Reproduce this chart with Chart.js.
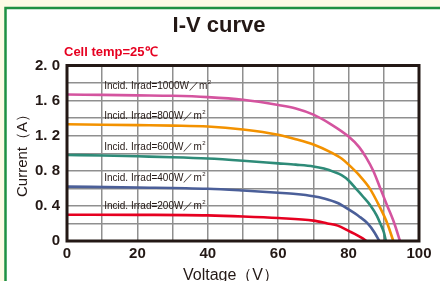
<!DOCTYPE html>
<html>
<head>
<meta charset="utf-8">
<script src="https://cdn.jsdelivr.net/npm/chart.js@4"></script>
<style>
  html, body { margin: 0; padding: 0; background: #fdfbe4; overflow: hidden; }
  canvas { display: block; }
</style>
</head>
<body>
<canvas id="ivChart" width="440" height="281"></canvas>
<script>
// values (voltage in V, current in A)
const volt1000 = [0, 10, 20, 30, 40, 50, 60, 65, 70, 75, 80, 83, 85, 87, 89, 91, 93, 94.6];
const curr1000 = [1.67, 1.665, 1.66, 1.655, 1.64, 1.61, 1.55, 1.51, 1.44, 1.33, 1.19, 1.07, 0.95, 0.8, 0.6, 0.4, 0.2, 0];
const volt800 = [0, 10, 20, 30, 40, 50, 60, 65, 70, 75, 78, 80, 83, 86, 88.7, 91, 92.7];
const curr800 = [1.33, 1.325, 1.32, 1.315, 1.305, 1.27, 1.21, 1.16, 1.1, 1.01, 0.94, 0.87, 0.75, 0.6, 0.4, 0.2, 0];
const volt600 = [0, 10, 20, 30, 40, 50, 60, 65, 70, 73, 76, 78, 80, 82, 84, 86.3, 88, 89, 90, 90.6];
const curr600 = [0.98, 0.975, 0.965, 0.955, 0.94, 0.915, 0.885, 0.87, 0.85, 0.825, 0.785, 0.75, 0.69, 0.6, 0.51, 0.4, 0.29, 0.2, 0.1, 0];
const volt400 = [0, 20, 40, 50, 60, 65, 70, 73, 76.9, 80, 83, 85.4, 87.3, 88.7];
const curr400 = [0.62, 0.61, 0.595, 0.575, 0.55, 0.535, 0.51, 0.485, 0.433, 0.36, 0.28, 0.2, 0.1, 0];
const volt200 = [0, 20, 40, 50, 60, 70, 74, 76.9, 80, 82.5, 84, 85];
const curr200 = [0.3, 0.298, 0.292, 0.28, 0.262, 0.232, 0.2, 0.175, 0.115, 0.065, 0.03, 0];

const irradLabels = ["Incid. Irrad=1000W／m", "Incid. Irrad=800W／m", "Incid. Irrad=600W／m", "Incid. Irrad=400W／m", "Incid. Irrad=200W／m"];
const curveColors = ["#d4549f", "#f39200", "#2e8b78", "#4b5f99", "#e60020"];
const xTicks = [0, 20, 40, 60, 80, 100];
const yTicks = [0, 0.4, 0.8, 1.2, 1.6, 2.0];

const series = [
  [volt1000, curr1000],
  [volt800, curr800],
  [volt600, curr600],
  [volt400, curr400],
  [volt200, curr200],
];

const FONT = "'Liberation Sans', Arial, sans-serif";

const decor = {
  id: "decor",
  beforeDraw(chart) {
    const ctx = chart.ctx;
    ctx.save();
    ctx.fillStyle = "#fdfbe4";
    ctx.fillRect(0, 0, 440, 281);
    ctx.fillStyle = "#ffffff";
    ctx.fillRect(5, 8, 435, 273);
    ctx.strokeStyle = "#1f9142";
    ctx.lineWidth = 2.5;
    ctx.beginPath();
    ctx.moveTo(5.5, 285);
    ctx.lineTo(5.5, 8);
    ctx.lineTo(445, 8);
    ctx.stroke();
    ctx.restore();
  },
  afterDraw(chart) {
    const ctx = chart.ctx;
    const a = chart.chartArea;
    const xs = chart.scales.x, ys = chart.scales.y;
    ctx.save();
    // plot frame
    ctx.strokeStyle = "#231815";
    ctx.lineWidth = 3;
    ctx.strokeRect(a.left, a.top, a.right - a.left, a.bottom - a.top);

    // title
    ctx.fillStyle = "#231815";
    ctx.textAlign = "center";
    ctx.textBaseline = "middle";
    ctx.font = "bold 22px " + FONT;
    ctx.fillText("I-V curve", 219, 26);

    ctx.fillStyle = "#e60020";
    ctx.textAlign = "left";
    ctx.font = "bold 13px " + FONT;
    ctx.fillText("Cell temp=25℃", 64, 52);

    // axis titles
    ctx.fillStyle = "#231815";
    ctx.font = "16px " + FONT;
    ctx.textAlign = "center";
    ctx.textBaseline = "alphabetic";
    ctx.fillText("Voltage（V）", 231, 280);
    ctx.save();
    ctx.translate(27, 152);
    ctx.rotate(-Math.PI / 2);
    ctx.font = "15px " + FONT;
    ctx.fillText("Current（A）", 0, 0);
    ctx.restore();

    // irradiance labels, placed just above each curve
    ctx.textAlign = "left";
    ctx.textBaseline = "middle";
    series.forEach((s, i) => {
      const px = xs.getPixelForValue(10) + 2;
      const py = ys.getPixelForValue(s[1][0]) - 8;
      ctx.font = "10px " + FONT;
      ctx.fillStyle = "#231815";
      ctx.fillText(irradLabels[i], px, py);
      const w = ctx.measureText(irradLabels[i]).width;
      ctx.font = "6px " + FONT;
      ctx.fillText("2", px + w + 0.5, py - 4);
    });
    ctx.restore();
  },
};

new Chart(document.getElementById("ivChart"), {
  type: "line",
  data: {
    datasets: series.map((s, i) => ({
      label: irradLabels[i],
      data: s[0].map((v, k) => ({ x: v, y: s[1][k] })),
      borderColor: curveColors[i],
      borderWidth: 2.6,
      pointRadius: 0,
      fill: false,
      cubicInterpolationMode: "monotone",
    })),
  },
  options: {
    responsive: false,
    animation: false,
    devicePixelRatio: 1,
    layout: { padding: { top: 65.5, right: 21, left: 0, bottom: 0 } },
    plugins: { legend: { display: false }, tooltip: { enabled: false } },
    scales: {
      x: {
        type: "linear",
        min: 0,
        max: 100,
        afterFit: (s) => { s.height = 40; },
        ticks: {
          stepSize: 10,
          autoSkip: false,
          maxRotation: 0,
          padding: 4,
          color: "#231815",
          font: { family: FONT, size: 15, weight: "bold" },
          callback: (v) => (xTicks.includes(v) ? String(v) : ""),
        },
        grid: { color: "#8f8f8f", lineWidth: 1.5, drawTicks: false },
        border: { display: false },
      },
      y: {
        min: 0,
        max: 2,
        afterFit: (s) => { s.width = 67; },
        ticks: {
          stepSize: 0.2,
          autoSkip: false,
          padding: 7,
          color: "#231815",
          font: { family: FONT, size: 15, weight: "bold" },
          callback: (v) => {
            const t = yTicks.find((k) => Math.abs(k - v) < 1e-6);
            if (t === undefined) return "";
            return t === 0 ? "0" : t.toFixed(1).replace(".", ". ");
          },
        },
        grid: { color: "#8f8f8f", lineWidth: 1.5, drawTicks: false },
        border: { display: false },
      },
    },
  },
  plugins: [decor],
});
</script>
</body>
</html>
